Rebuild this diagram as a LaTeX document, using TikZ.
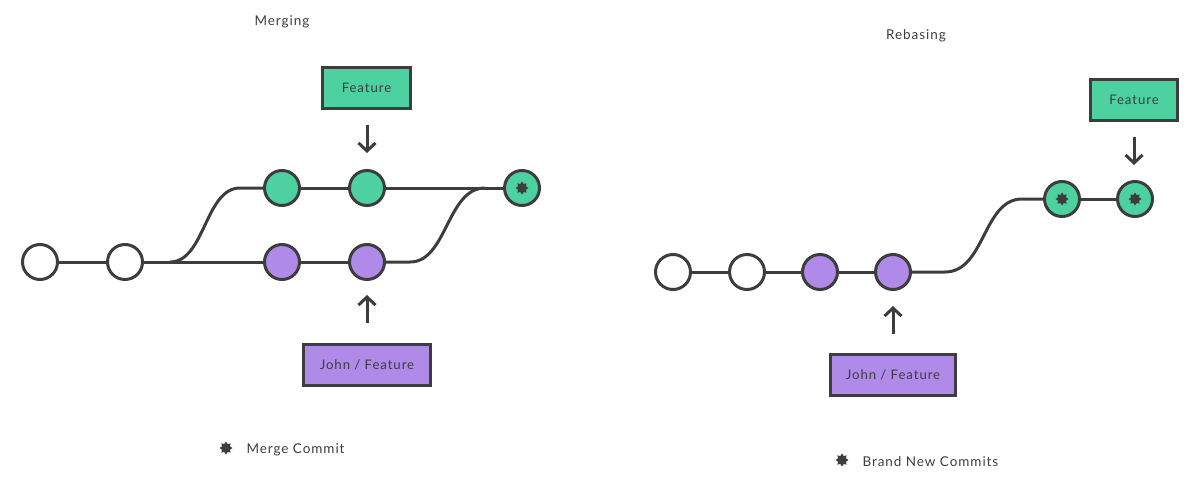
\documentclass[tikz,border=0pt]{standalone}
\usepackage{fontspec}
\setmainfont{Lato}[LetterSpace=7]
\usetikzlibrary{arrows.meta,shapes.geometric}
\definecolor{dk}{HTML}{3D3D3D}
\definecolor{gr}{HTML}{4DD1A0}
\definecolor{pu}{HTML}{B08AE8}
\tikzset{
  commit/.style={circle,draw=dk,line width=3pt,minimum size=35pt,inner sep=0pt},
  wc/.style={commit,fill=white},
  gc/.style={commit,fill=gr},
  pc/.style={commit,fill=pu},
  branchbox/.style={draw=dk,line width=3pt,inner sep=0pt,text=dk,font=\fontsize{13.2}{15}\selectfont},
  edge/.style={draw=dk,line width=3pt},
  pointer/.style={draw=dk,line width=3pt,-{Straight Barb[length=8pt,width=17pt,line width=3pt]}},
  lbl/.style={text=dk,font=\fontsize{13.5}{15}\selectfont},
  ast/.style={star,star points=8,star point ratio=1.5,fill=dk,inner sep=0pt,minimum size=13pt},
}
\begin{document}
\begin{tikzpicture}[x=1pt,y=-1pt]
\useasboundingbox (0,0) rectangle (1189,477);
% ---------- Merging ----------
\node[lbl] (tm) at (282,21.5) {Merging};
\node[wc] (a1) at (40,262) {};
\node[wc] (a2) at (125,262) {};
\node[gc] (g1) at (282,188) {};
\node[gc] (g2) at (367,188) {};
\node[gc] (mc) at (522,188) {};
\node[ast] at (mc) {};
\node[pc] (p1) at (282,262) {};
\node[pc] (p2) at (367,262) {};
\coordinate (s1) at (170,262);
\coordinate (s2) at (240,188);
\coordinate (m1) at (410,262);
\coordinate (m2) at (485,188);
\path[edge] (a1) -- (a2);
\path[edge] (a2) -- (p1);
\path[edge] (p1) -- (p2);
\path[edge] (s1) .. controls (205,262) and (205,188) .. (s2) -- (g1);
\path[edge] (g1) -- (g2);
\path[edge] (g2) -- (mc);
\path[edge] (p2) -- (m1) .. controls (447,262) and (447,188) .. (m2);
\node[branchbox,fill=gr,minimum width=88pt,minimum height=41pt] (fb) at (366.5,87.5) {Feature};
\node[branchbox,fill=pu,minimum width=127pt,minimum height=41pt] (jb) at (367,364.5) {John / Feature};
\coordinate (fa) at (367,125);
\coordinate (fe) at (367,153);
\coordinate (ja) at (367,323);
\coordinate (je) at (367,295);
\path[pointer] (fa) -- (fe);
\path[pointer] (ja) -- (je);
\node[ast] (l1) at (226,448) {};
\node[lbl,anchor=west] (l1t) at (243,449.5) {Merge Commit};
% ---------- Rebasing ----------
\node[lbl] (tr) at (916,35.5) {Rebasing};
\node[wc] (b1) at (673,272) {};
\node[wc] (b2) at (747,272) {};
\node[pc] (b3) at (820,272) {};
\node[pc] (b4) at (893,272) {};
\node[gc] (b5) at (1062,199) {};
\node[gc] (b6) at (1135,199) {};
\node[ast] at (b5) {};
\node[ast] at (b6) {};
\coordinate (r1) at (945,272);
\coordinate (r2) at (1022,199);
\path[edge] (b1) -- (b2);
\path[edge] (b2) -- (b3);
\path[edge] (b3) -- (b4);
\path[edge] (b4) -- (r1) .. controls (985,272) and (983,199) .. (r2) -- (b5);
\path[edge] (b5) -- (b6);
\node[branchbox,fill=gr,minimum width=87pt,minimum height=41pt] (fb2) at (1134,99.5) {Feature};
\node[branchbox,fill=pu,minimum width=125pt,minimum height=41pt] (jb2) at (893,374.5) {John / Feature};
\coordinate (fa2) at (1134,137);
\coordinate (fe2) at (1134,165);
\coordinate (ja2) at (893,334);
\coordinate (je2) at (893,306);
\path[pointer] (fa2) -- (fe2);
\path[pointer] (ja2) -- (je2);
\node[ast] (l2) at (842,460) {};
\node[lbl,anchor=west] (l2t) at (859,461.5) {Brand New Commits};
\end{tikzpicture}
\end{document}
